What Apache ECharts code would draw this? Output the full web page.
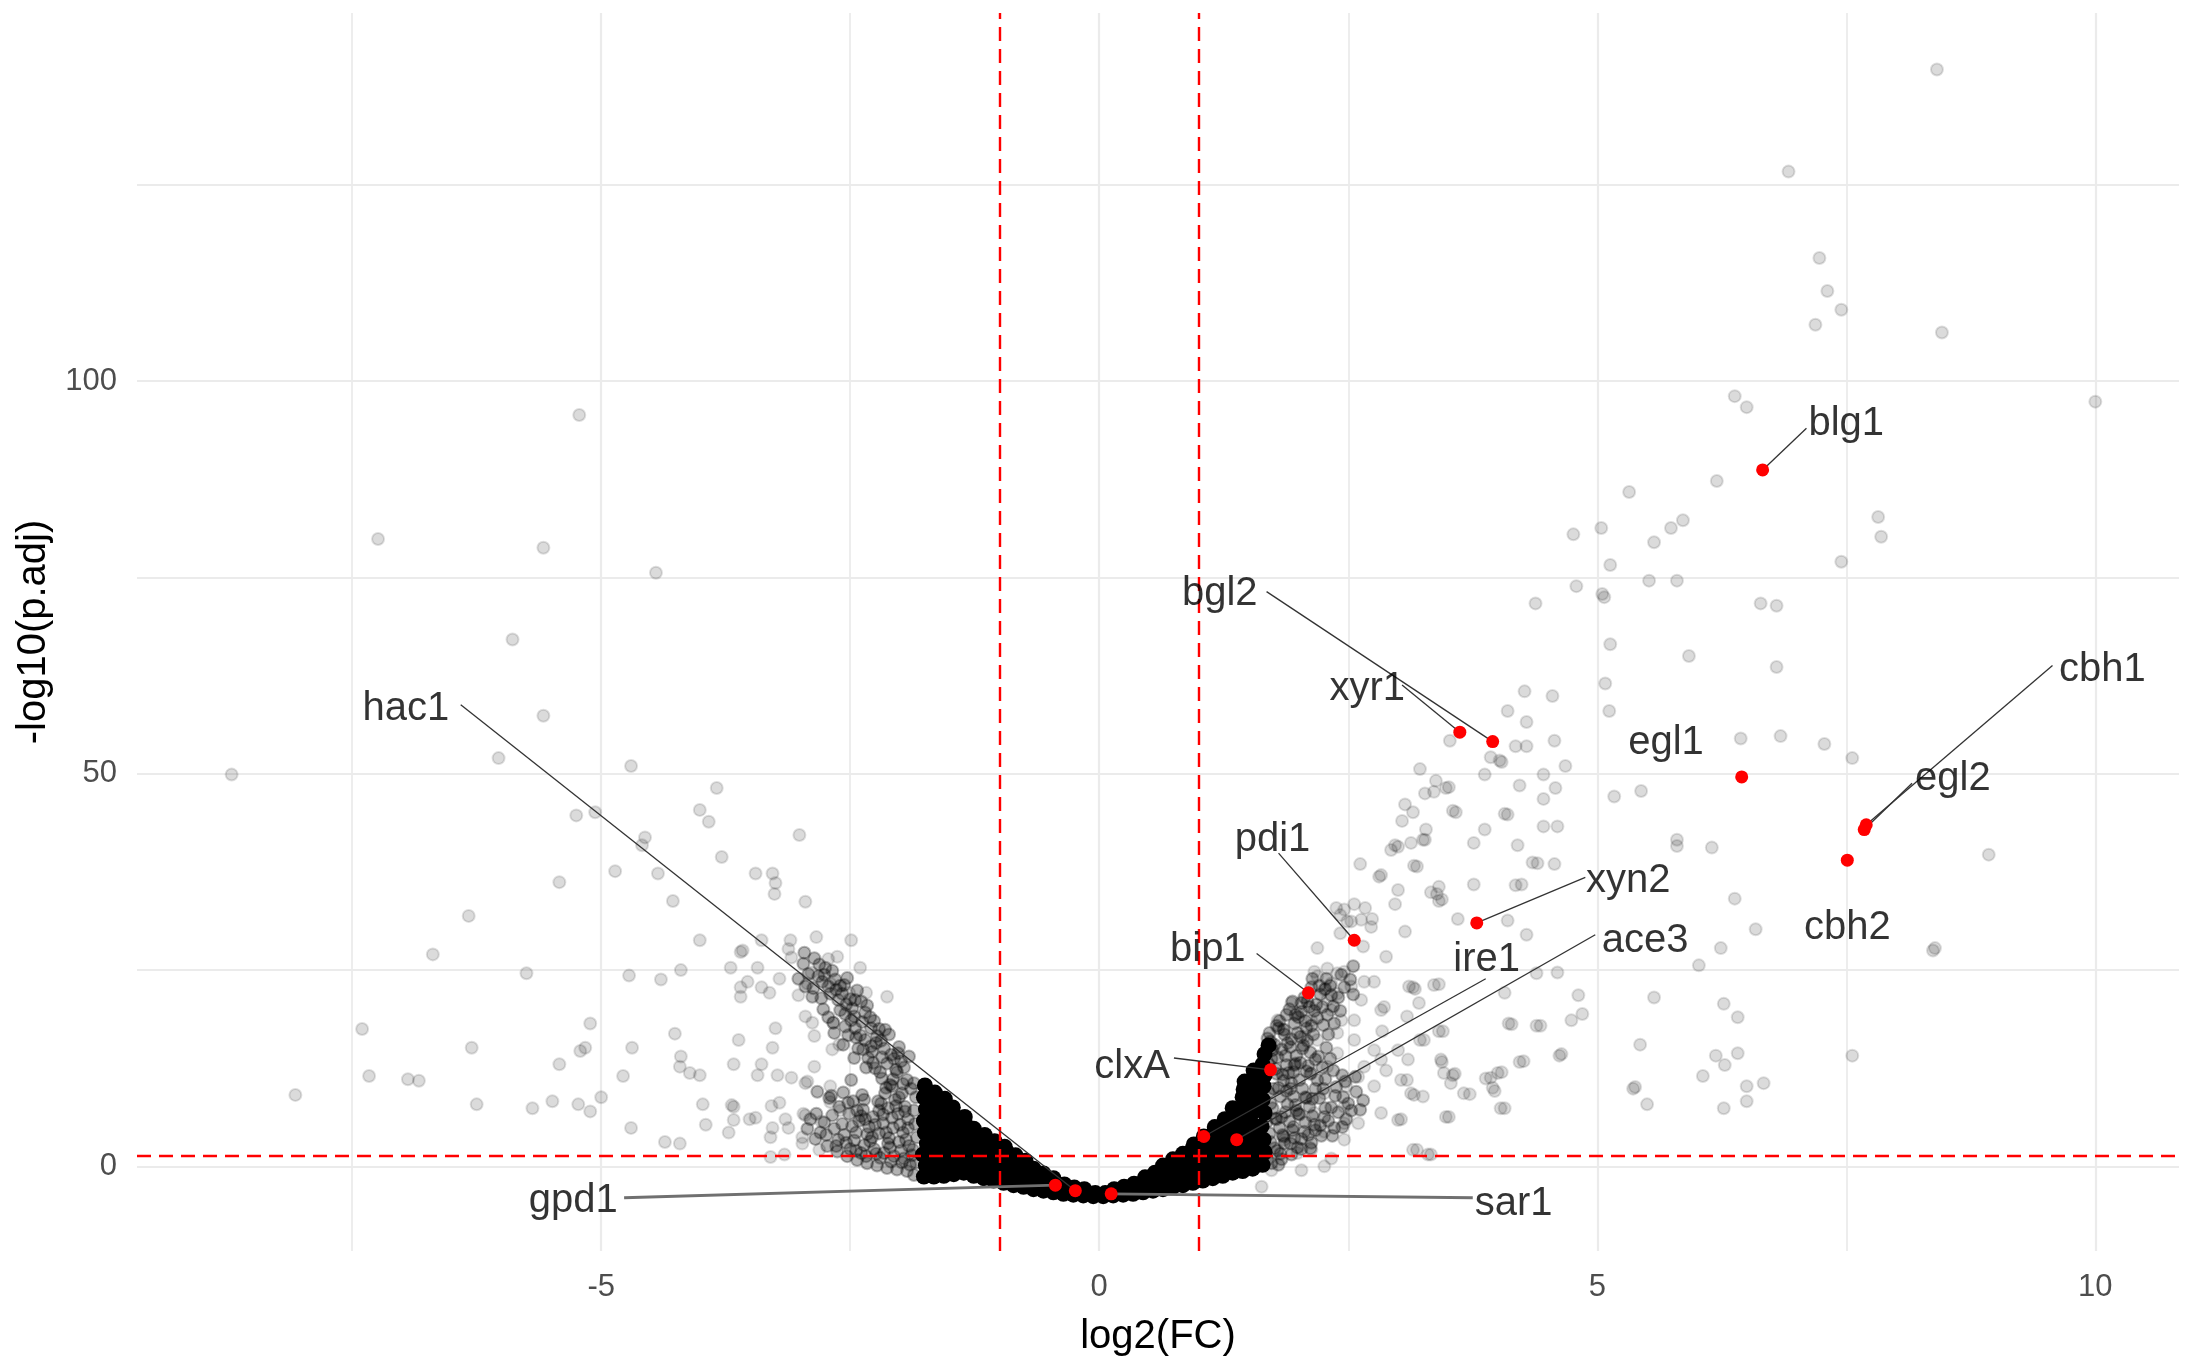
<!DOCTYPE html>
<html>
<head>
<meta charset="utf-8">
<script src="https://cdn.jsdelivr.net/npm/echarts@6/dist/echarts.min.js"></script>
<style>
  html, body { margin: 0; padding: 0; background: #fff; }
  #chart { width: 2190px; height: 1369px; }
</style>
</head>
<body>
<div id="chart"></div>
<script>
// grid / threshold values
const xGridMajor = [-5, 0, 5, 10]
const xGridMinor = [-7.5, -2.5, 2.5, 7.5]
const yGridMajor = [0, 50, 100]
const yGridMinor = [25, 75, 125]
const fcCut = [-1, 1]
const padjCut = 1.3

// scattered genes, [log2FC, -log10(p.adj)]
const sparseGenes = [
  [8.41,139.7],[6.92,126.7],[7.23,115.7],[7.31,111.5],[7.45,109.1],[7.19,107.2],[8.46,106.2],[6.38,98.1],[6.50,96.7],[10.0,97.4],
  [6.20,87.3],[5.32,85.9],[4.76,80.5],[5.04,81.3],[5.74,81.3],[5.86,82.3],[5.57,79.5],[7.82,82.7],[7.85,80.2],[7.45,77.0],
  [5.13,76.6],[4.79,73.9],[5.52,74.6],[5.80,74.6],[5.05,72.9],[5.07,72.5],[4.38,71.7],[6.64,71.7],[6.80,71.4],[5.13,66.5],
  [5.92,65.0],[6.80,63.6],[5.08,61.5],[4.27,60.5],[4.55,59.9],[5.12,58.0],[4.10,58.0],[4.29,56.6],[4.57,54.2],[4.18,53.5],
  [4.29,53.5],[3.52,54.2],[3.93,52.1],[4.02,51.7],[4.04,51.5],[4.68,51.0],[3.87,49.9],[4.46,49.9],[3.22,50.6],[3.38,49.1],
  [3.48,48.2],[3.27,47.5],[3.36,47.7],[3.51,48.3],[4.22,48.5],[4.58,48.2],[4.46,46.8],[5.17,47.1],[5.44,47.8],[6.44,54.5],
  [6.84,54.8],[7.28,53.8],[7.56,52.0],[3.07,46.1],[3.15,45.1],[3.55,45.3],[3.58,45.1],[4.07,44.9],[4.10,44.8],[3.04,44.0],
  [3.28,42.9],[3.87,42.9],[4.46,43.3],[4.60,43.3],[3.27,41.6],[3.76,41.2],[4.20,40.9],[5.80,41.6],[5.80,40.8],[6.15,40.6],
  [2.97,40.9],[3.00,40.7],[2.93,40.3],[3.13,41.2],[8.93,39.7],[8.37,27.5],[8.39,27.8],[6.38,34.1],[6.59,30.2],[6.24,27.8],
  [6.02,25.6],[5.57,21.5],[6.27,20.7],[6.41,19.0],[5.43,15.5],[7.56,14.1],[6.19,14.1],[6.41,14.4],[6.28,12.9],[6.06,11.5],
  [5.36,9.9],[5.38,10.1],[5.50,7.9],[6.50,10.2],[6.67,10.6],[6.50,8.3],[6.27,7.4],[4.81,21.8],[4.85,19.4],[4.74,18.6],
  [4.43,17.9],[4.14,18.1],[4.62,14.1],[4.64,14.3],[4.26,13.4],[4.04,12.0],[3.93,11.3],[3.97,9.6],[4.07,7.4],[3.72,9.2],
  [3.51,6.3],[3.55,11.6],[3.57,11.8],[3.44,13.3],[3.45,17.2],[3.26,16.1],[4.60,24.7],[4.39,24.6],[4.07,22.1],[3.15,22.8],
  [3.17,22.6],[3.41,23.2],[3.09,19.1],[2.86,20.3],[2.84,17.2],[2.88,12.2],[3.09,11.0],[3.16,9.1],[3.19,2.1],[3.33,1.5],
  [3.03,6.0],[2.62,38.5],[2.81,36.9],[2.83,37.1],[3.19,38.2],[3.00,35.2],[3.39,34.7],[3.44,34.0],[3.76,35.9],[4.24,35.9],
  [4.40,38.6],[4.57,38.5],[2.97,33.4],[3.60,31.5],[4.10,31.3],[3.07,29.9],[4.29,29.5],[2.88,26.7],[2.38,32.9],[2.56,33.4],
  [2.67,32.9],[2.74,31.5],[2.49,31.2],[2.42,32.0],[2.46,32.7],[2.63,31.4],[2.73,30.5],[2.53,31.2],[2.42,29.7],[2.65,28.0],
  [2.19,27.8],[3.41,35.6],[3.33,34.9],[3.41,33.8],[4.18,35.8],[4.35,38.7],[3.16,38.3],[3.25,41.6],
  [2.16,24.8],[2.29,25.2],[2.39,24.6],[2.46,24.8],[2.33,23.3],[2.19,24.2],[2.26,22.5],[2.53,22.9],[2.66,23.5],[2.76,23.5],
  [2.39,22.0],[2.29,21.2],[1.93,20.8],[1.99,19.5],[2.13,18.6],[2.33,19.9],[2.43,18.6],[2.56,18.6],[1.86,17.4],[1.79,18.6],
  [2.06,16.5],[2.19,16.1],[2.39,17.0],[2.83,19.9],[2.63,21.2],[2.56,16.1],[2.76,14.8],[2.83,13.6],[3.00,14.8],[3.10,13.6],
  [3.11,22.9],[3.36,23.1],[3.21,20.8],[3.22,16.1],[3.41,17.2],[3.46,11.9],[3.53,10.6],[3.43,13.6],[3.66,9.3],[3.88,11.2],
  [4.00,11.9],[3.95,10.0],[4.03,7.4],[4.22,13.3],[4.11,18.2],[4.39,17.9],[3.48,6.3],[3.15,2.1],[3.30,1.5],[3.13,9.3],
  [3.25,8.9],[3.03,11.0],[2.76,10.2],[2.83,6.8],[3.00,5.9],[2.60,5.5],[2.46,5.5],[2.46,3.4],[2.26,4.4],[2.16,6.8],
  [2.13,2.1],[2.33,1.0],[2.26,0.0],[2.48,10.2],[2.46,7.6],[2.26,9.3],[2.13,11.9],[2.29,12.7],[2.39,14.4],[2.66,12.7],
  [2.60,11.4],[1.73,-0.5],[1.63,-2.6],[2.03,-0.5],[1.99,1.7],[1.86,3.4],
  [-5.22,95.7],[-7.24,79.9],[-5.58,78.8],[-4.45,75.6],[-5.89,67.1],[-5.58,57.4],[-6.03,52.0],[-8.71,49.9],[-4.70,51.0],[-3.84,48.2],
  [-5.25,44.7],[-5.06,45.1],[-4.01,45.4],[-3.92,43.9],[-4.56,41.9],[-4.59,40.9],[-3.01,42.2],[-3.79,39.4],[-4.86,37.6],[-4.43,37.3],
  [-3.45,37.3],[-3.28,37.3],[-3.25,36.1],[-3.26,34.7],[-5.42,36.2],[-4.28,33.8],[-2.95,33.7],[-6.33,31.9],[-6.69,27.0],[-5.75,24.6],
  [-4.72,24.3],[-4.40,23.8],[-4.20,25.0],[-4.01,28.8],[-3.39,28.8],[-3.10,28.8],[-2.84,29.2],[-2.49,28.8],[-3.60,27.3],[-3.58,27.5],
  [-3.12,27.7],[-3.70,25.3],[-3.43,25.3],[-3.09,26.6],[-2.72,26.4],[-2.63,26.7],[-2.40,25.3],[-3.53,23.5],[-3.60,22.8],[-3.39,22.8],
  [-3.31,22.1],[-3.60,21.6],[-3.21,23.9],[-2.89,24.7],[-2.93,23.3],[-3.02,21.8],[-2.70,23.3],[-2.51,22.1],[-2.34,22.1],[-2.13,21.6],
  [-2.95,19.1],[-2.88,18.3],[-3.25,17.6],[-2.86,16.6],[-2.67,18.3],[-3.62,16.1],[-3.28,15.1],[-4.26,16.9],[-5.11,18.2],[-4.69,15.1],
  [-5.16,15.1],[-5.21,14.7],[-6.30,15.1],[-7.40,17.5],[-5.42,13.0],[-4.20,14.0],[-4.21,12.7],[-4.11,11.9],[-4.01,11.6],[-4.78,11.5],
  [-3.67,13.0],[-3.39,13.0],[-3.43,11.6],[-3.23,11.6],[-3.09,11.3],[-2.95,10.6],[-2.93,10.8],[-2.86,12.7],[-2.70,10.2],[-2.68,14.9],
  [-2.61,15.5],[-7.33,11.5],[-6.94,11.1],[-6.83,10.9],[-8.07,9.1],[-6.25,7.9],[-5.69,7.4],[-5.49,8.3],[-5.23,7.9],[-5.11,7.0],
  [-5.00,8.8],[-4.70,4.9],[-4.36,3.1],[-4.21,2.9],[-3.98,7.9],[-3.95,5.3],[-3.69,7.8],[-3.67,7.6],[-3.72,4.3],[-3.67,5.9],
  [-3.51,6.0],[-3.45,6.2],[-3.29,7.7],[-3.21,8.1],[-3.28,4.9],[-3.30,3.7],[-3.15,6.0],[-3.12,4.9],[-2.95,6.5],[-2.97,6.7],
  [-2.98,3.7],[-2.98,2.9],[-2.81,2.1],[-3.16,1.5],[-3.30,1.2],[-2.70,8.2],[-2.60,7.1],[-2.79,5.7]
]

// genes in the two arms of the V
const denseGenes = [
  [-1.86,-1.1],[-1.84,0.5],[-1.87,2.1],[-1.83,3.7],[-1.85,5.4],[-1.86,7.1],[-1.84,8.8],[-1.86,10.6],
  [-1.93,-0.6],[-1.96,1.0],[-1.91,2.6],[-1.97,4.3],[-1.92,6.0],[-1.95,7.6],[-1.98,9.3],[-1.93,11.0],[-1.96,12.6],[-1.91,14.0],
  [-2.03,-0.4],[-2.06,1.3],[-2.01,3.1],[-2.07,4.9],[-2.02,6.7],[-2.05,8.5],[-2.08,10.2],[-2.03,12.0],[-2.06,13.7],[-2.01,15.2],
  [-2.13,-0.2],[-2.16,1.7],[-2.11,3.6],[-2.17,5.5],[-2.12,7.4],[-2.15,9.3],[-2.18,11.2],[-2.13,13.1],[-2.16,15.0],[-2.11,16.8],
  [-2.23,0.1],[-2.26,2.2],[-2.21,4.2],[-2.27,6.3],[-2.22,8.3],[-2.25,12.5],[-2.28,14.6],[-2.23,16.6],[-2.26,18.5],
  [-2.33,0.4],[-2.36,2.7],[-2.31,5.0],[-2.37,7.2],[-2.32,13.8],[-2.35,16.1],[-2.38,18.4],[-2.33,20.5],
  [-2.43,0.8],[-2.46,3.3],[-2.41,5.8],[-2.47,8.3],[-2.42,15.0],[-2.45,17.6],[-2.48,20.1],[-2.43,22.4],
  [-2.53,1.3],[-2.56,4.0],[-2.51,6.7],[-2.57,9.4],[-2.52,16.7],[-2.55,19.4],[-2.58,22.0],[-2.53,24.0],
  [-2.63,1.9],[-2.66,4.8],[-2.61,7.6],[-2.67,18.3],[-2.62,21.2],[-2.65,23.8],
  [-2.73,2.6],[-2.76,5.6],[-2.71,8.7],[-2.77,20.0],[-2.72,22.9],[-2.75,25.3],
  [-2.85,3.5],[-2.83,9.5],[-2.88,21.6],[-2.82,24.2],[-2.95,22.9],[-2.97,25.8],
  [-1.90,0.2],[-1.99,2.0],[-1.94,3.4],[-2.00,5.3],[-1.95,7.0],[-2.01,8.8],[-1.97,10.5],[-2.04,12.3],[-1.99,13.4],
  [-2.09,0.6],[-2.10,2.4],[-2.14,4.3],[-2.08,6.2],[-2.19,8.0],[-2.10,10.4],[-2.20,12.0],[-2.09,14.2],[-2.19,16.0],
  [-2.20,1.1],[-2.30,3.2],[-2.25,5.3],[-2.35,6.0],[-2.29,15.3],[-2.21,17.5],[-2.30,19.0],[-2.39,1.7],[-2.44,4.3],[-2.38,9.1],
  [-2.40,16.7],[-2.46,19.1],[-2.39,21.0],[-2.50,2.2],[-2.58,5.4],[-2.49,11.0],[-2.55,17.8],[-2.50,21.3],[-2.60,23.0],
  [-2.62,3.4],[-2.68,6.5],[-2.60,19.9],[-2.70,22.0],[-2.80,4.3],[-2.78,23.5],[-2.90,6.0],[-2.92,24.5],[-2.86,26.5],
  [-1.88,1.4],[-1.92,4.9],[-1.89,9.9],[-1.98,0.5],[-2.04,7.7],[-2.07,11.1],[-2.02,14.4],[-2.12,2.9],[-2.17,6.6],[-2.14,10.0],
  [-2.18,13.9],[-2.15,17.4],[-2.24,1.6],[-2.28,3.7],[-2.21,7.1],[-2.27,13.2],[-2.24,15.7],[-2.29,17.6],[-2.34,1.3],[-2.33,4.1],
  [-2.39,6.4],[-2.36,8.5],[-2.34,12.6],[-2.37,14.9],[-2.35,19.6],[-2.44,2.0],[-2.48,5.1],[-2.43,7.1],[-2.46,13.8],[-2.44,16.4],
  [-2.49,18.6],[-2.45,21.2],[-2.54,3.0],[-2.52,8.1],[-2.57,15.5],[-2.54,20.6],[-2.56,23.1],[-2.64,2.6],[-2.69,9.0],[-2.66,17.0],
  [-2.64,22.5],[-2.68,24.9],[-2.74,4.0],[-2.72,19.0],[-2.79,21.4],[-2.76,24.4],[-2.84,6.7],[-2.87,22.7],[-2.81,25.7],[-2.93,4.8],
  [-2.96,27.2],[-3.02,23.9],
  [1.73,0.4],[1.76,2.3],[1.71,4.2],[1.77,6.1],[1.72,8.0],[1.75,9.9],[1.78,11.8],[1.73,13.7],[1.76,15.5],[1.71,17.0],
  [1.83,0.9],[1.86,2.9],[1.81,4.9],[1.87,6.9],[1.82,8.9],[1.85,10.9],[1.88,12.9],[1.83,14.9],[1.86,16.8],[1.81,18.5],
  [1.93,1.5],[1.96,3.6],[1.91,5.7],[1.97,7.8],[1.92,9.9],[1.95,12.0],[1.98,14.1],[1.93,16.2],[1.96,18.2],[1.91,20.0],
  [2.03,2.2],[2.06,4.4],[2.01,6.6],[2.07,8.8],[2.02,13.2],[2.05,15.4],[2.08,17.6],[2.03,19.7],[2.06,21.5],
  [2.13,3.0],[2.16,5.3],[2.11,7.6],[2.17,9.9],[2.12,14.5],[2.15,16.8],[2.18,20.6],[2.13,22.8],
  [2.23,3.9],[2.26,6.3],[2.21,8.7],[2.27,11.1],[2.25,18.0],[2.22,21.9],[2.28,23.9],
  [2.36,4.9],[2.33,7.5],[2.38,10.1],[2.35,20.4],[2.32,23.0],[2.48,6.0],[2.45,8.8],[2.43,24.4],[2.55,25.5],[2.62,7.2],
  [1.70,13.0],[1.74,14.8],[1.69,16.3],[1.80,0.2],[1.79,2.0],[1.84,4.0],[1.78,6.0],[1.89,7.9],[1.80,10.0],[1.90,11.9],
  [1.79,13.9],[1.89,15.7],[1.80,17.6],[1.99,2.4],[1.94,4.6],[2.00,6.7],[1.95,8.9],[2.01,11.0],[1.97,13.1],[2.04,15.0],
  [1.99,17.0],[2.00,19.0],[2.09,21.0],[2.10,4.0],[2.14,6.4],[2.08,8.7],[2.19,11.0],[2.10,12.8],[2.20,14.0],[2.09,16.0],
  [2.19,18.9],[2.11,20.3],[2.30,5.8],[2.25,9.9],[2.35,12.2],[2.30,16.8],[2.29,19.3],[2.21,23.0],[2.40,6.9],[2.44,11.6],
  [2.40,21.5],[2.50,8.0],[2.58,9.5],[2.52,23.8],
  [1.69,0.9],[1.72,3.1],[1.68,5.6],[1.74,7.4],[1.70,9.4],[1.77,12.4],[1.72,15.9],[1.78,17.9],[1.82,1.6],[1.85,3.8],
  [1.83,6.3],[1.88,9.6],[1.84,11.7],[1.87,14.1],[1.85,17.4],[1.88,19.3],[1.92,2.9],[1.95,5.0],[1.98,7.1],[1.93,10.6],
  [1.96,12.9],[1.92,15.2],[1.97,19.3],[1.94,21.0],[2.03,3.5],[2.07,5.6],[2.04,9.9],[2.08,12.1],[2.02,16.5],[2.07,18.5],
  [2.03,20.8],[2.12,2.3],[2.17,4.6],[2.14,8.6],[2.12,11.8],[2.17,13.6],[2.13,17.9],[2.16,19.8],[2.14,23.9],[2.22,5.2],
  [2.27,7.4],[2.24,12.6],[2.28,15.1],[2.24,20.3],[2.27,22.6],[2.34,3.9],[2.37,9.0],[2.32,13.7],[2.36,18.2],[2.33,21.8],
  [2.44,5.0],[2.47,10.8],[2.42,19.8],[2.46,22.8],[2.53,7.1],[2.57,11.4],[2.55,21.9],[2.65,8.4]
]

// genes in the solid core of the V
const coreGenes = [
  [-1.76,-1.3],[-1.74,0.1],[-1.77,1.5],[-1.73,2.9],[-1.75,4.3],[-1.76,5.8],[-1.74,7.3],[-1.76,8.8],[-1.75,10.3],
  [-1.66,-1.3],[-1.64,0.0],[-1.67,1.3],[-1.63,2.6],[-1.65,4.0],[-1.66,5.4],[-1.64,6.8],[-1.66,8.1],[-1.65,9.4],
  [-1.56,-1.2],[-1.54,0.0],[-1.57,1.3],[-1.53,2.6],[-1.55,3.9],[-1.56,5.2],[-1.54,6.5],[-1.56,7.7],[-1.55,8.6],
  [-1.46,-1.0],[-1.44,0.2],[-1.47,1.4],[-1.43,2.7],[-1.46,3.9],[-1.44,5.2],[-1.45,6.4],[-1.47,7.5],
  [-1.36,-0.8],[-1.34,0.4],[-1.37,1.6],[-1.33,2.9],[-1.36,4.1],[-1.34,5.3],[-1.35,6.3],
  [-1.26,-1.2],[-1.24,0.0],[-1.27,1.2],[-1.23,2.4],[-1.25,3.6],[-1.26,4.8],
  [-1.16,-1.5],[-1.14,-0.4],[-1.15,0.8],[-1.17,1.9],[-1.13,3.0],[-1.15,4.0],
  [-1.06,-1.8],[-1.04,-0.7],[-1.05,0.4],[-1.07,1.4],[-1.03,2.4],[-1.05,3.2],
  [-0.96,-2.1],[-0.94,-1.1],[-0.95,-0.1],[-0.97,0.9],[-0.93,1.9],[-0.95,2.5],
  [-0.86,-2.4],[-0.84,-1.4],[-0.85,-0.4],[-0.86,0.6],[-0.84,1.4],
  [-0.76,-2.6],[-0.74,-1.7],[-0.75,-0.8],[-0.76,0.1],[-0.74,0.7],
  [-0.66,-2.9],[-0.64,-2.0],[-0.65,-1.1],[-0.66,-0.3],
  [-0.56,-3.1],[-0.54,-2.3],[-0.55,-1.5],[-0.56,-0.9],
  [-0.46,-3.3],[-0.44,-2.6],[-0.45,-1.9],[-0.46,-1.5],
  [-0.36,-3.5],[-0.34,-2.9],[-0.35,-2.3],
  [-0.26,-3.6],[-0.24,-3.1],[-0.25,-2.7],
  [-0.16,-3.7],[-0.14,-3.2],[-0.15,-2.9],
  [-0.06,-3.8],[-0.04,-3.4],[0.04,-3.8],[0.06,-3.4],
  [0.14,-3.7],[0.16,-3.2],[0.15,-2.9],
  [0.24,-3.6],[0.26,-3.1],[0.25,-2.6],
  [0.34,-3.5],[0.36,-2.8],[0.35,-2.2],
  [0.44,-3.3],[0.46,-2.6],[0.45,-1.9],[0.46,-1.4],
  [0.54,-3.1],[0.56,-2.3],[0.55,-1.5],[0.56,-0.8],
  [0.64,-2.9],[0.66,-2.0],[0.65,-1.1],[0.66,-0.2],[0.64,0.1],
  [0.74,-2.6],[0.76,-1.7],[0.75,-0.7],[0.76,0.2],[0.74,0.9],
  [0.84,-2.4],[0.86,-1.4],[0.85,-0.4],[0.86,0.6],[0.84,1.6],
  [0.94,-2.1],[0.96,-1.1],[0.95,0.0],[0.97,1.1],[0.93,2.1],[0.95,2.8],
  [1.04,-1.8],[1.06,-0.7],[1.05,0.5],[1.07,1.6],[1.03,2.7],[1.05,3.8],
  [1.14,-1.5],[1.16,-0.4],[1.15,0.8],[1.17,2.0],[1.13,3.2],[1.15,4.3],[1.16,5.0],
  [1.24,-1.2],[1.26,0.0],[1.25,1.2],[1.27,2.5],[1.23,3.7],[1.25,4.9],[1.26,6.0],
  [1.34,-0.8],[1.36,0.4],[1.35,1.7],[1.37,3.0],[1.33,4.3],[1.35,5.6],[1.36,6.9],[1.34,7.4],
  [1.44,-0.6],[1.46,0.7],[1.45,2.0],[1.47,3.4],[1.43,4.8],[1.45,6.2],[1.46,7.6],[1.44,8.8],[1.45,9.8],[1.46,10.8],
  [1.54,-0.3],[1.56,1.1],[1.55,2.5],[1.57,4.0],[1.53,5.5],[1.55,7.0],[1.56,8.5],[1.54,9.9],[1.55,11.0],[1.55,12.2],
  [1.64,0.2],[1.66,1.8],[1.65,3.4],[1.63,5.1],[1.66,6.8],[1.64,8.5],[1.65,10.2],[1.66,11.6],[1.64,13.0],[1.66,14.3],[1.70,15.4]
]

// highlighted genes
const geneNames = ['blg1', 'xyr1', 'bgl2', 'egl1', 'cbh1', 'egl2', 'cbh2', 'xyn2', 'pdi1', 'bip1', 'clxA', 'ire1', 'ace3', 'sar1', 'gpd1', 'hac1']
const geneFC = [6.66, 3.62, 3.95, 6.45, 7.70, 7.68, 7.51, 3.79, 2.56, 2.10, 1.72, 1.05, 1.38, 0.12, -0.44, -0.24]
const genePadj = [88.7, 55.3, 54.1, 49.6, 43.5, 42.9, 39.0, 31.0, 28.8, 22.1, 12.3, 3.8, 3.4, -3.5, -2.4, -3.1]

// where the repelled labels sit, and where their leader line starts (null = no line)
const labelAt = [[7.50,94.6],[2.69,60.8],[1.21,72.9],[5.69,53.9],[10.07,63.2],[8.57,49.4],[7.51,30.4],[5.31,36.4],
  [1.74,41.6],[1.09,27.6],[0.33,12.6],[3.89,26.3],[5.48,28.7],[4.16,-4.8],[-5.28,-4.4],[-6.96,58.2]]
const leaderFrom = [[7.10,94.0],[3.04,61.3],[1.68,73.2],null,[9.57,63.8],[8.16,48.8],null,[4.88,36.8],
  [1.80,39.9],[1.58,27.1],[0.75,13.8],[3.88,23.9],[4.98,29.5],[3.75,-4.0],[-4.77,-4.0],[-6.41,58.8]]

const FONT = "'Liberation Sans', Arial, sans-serif"
const chart = echarts.init(document.getElementById('chart'))

const gridLines = [
  ...xGridMajor.map(v => ({ xAxis: v, lineStyle: { width: 2.2 } })),
  ...xGridMinor.map(v => ({ xAxis: v, lineStyle: { width: 1.8 } })),
  ...yGridMajor.map(v => ({ yAxis: v, lineStyle: { width: 2.2 } })),
  ...yGridMinor.map(v => ({ yAxis: v, lineStyle: { width: 1.8 } }))
]

const leaderLines = []
leaderFrom.forEach((p, i) => {
  if (!p) return
  const flat = geneNames[i] === 'gpd1' || geneNames[i] === 'sar1'
  leaderLines.push({
    coords: [p, [geneFC[i], genePadj[i]]],
    lineStyle: flat ? { color: '#707070', width: 2.8, opacity: 1 } : { color: '#333', width: 1.3, opacity: 1 }
  })
})

// scatter defaults to opacity 0.8, so set it back to 1 and carry alpha in the colour
const pointStyle = (a) => ({ color: `rgba(0,0,0,${a})`, borderColor: `rgba(0,0,0,${a * 0.9})`, borderWidth: 2, opacity: 1 })

chart.setOption({
  animation: false,
  backgroundColor: '#fff',
  grid: { left: 137, right: 11, top: 13, bottom: 118 },
  xAxis: {
    type: 'value', min: -9.66, max: 10.84, splitNumber: 4,
    axisLine: { show: false }, axisTick: { show: false }, splitLine: { show: false },
    axisLabel: {
      margin: 21, fontSize: 31, color: '#4D4D4D', fontFamily: FONT,
      formatter: v => (Math.abs(v % 5) < 1e-6 ? String(v) : '')
    },
    name: 'log2(FC)', nameLocation: 'middle', nameGap: 66,
    nameTextStyle: { fontSize: 40, color: '#000', fontFamily: FONT }
  },
  yAxis: {
    type: 'value', min: -10.78, max: 146.9, splitNumber: 3,
    axisLine: { show: false }, axisTick: { show: false }, splitLine: { show: false },
    axisLabel: {
      margin: 20, fontSize: 31, color: '#4D4D4D', fontFamily: FONT,
      formatter: v => (Math.abs(v % 50) < 1e-6 ? String(v) : '')
    },
    name: '-log10(p.adj)', nameLocation: 'middle', nameGap: 82, nameRotate: 90,
    nameTextStyle: { fontSize: 40, color: '#000', fontFamily: FONT }
  },
  series: [
    {
      type: 'scatter', data: [], z: 0, silent: true,
      markLine: {
        silent: true, symbol: ['none', 'none'], animation: false, z: 0,
        label: { show: false },
        lineStyle: { color: '#EBEBEB', type: 'solid' },
        data: gridLines
      }
    },
    { type: 'scatter', data: sparseGenes, symbolSize: 12, itemStyle: pointStyle(0.14), z: 2, silent: true },
    { type: 'scatter', data: denseGenes, symbolSize: 12, itemStyle: pointStyle(0.3), z: 2, silent: true },
    { type: 'scatter', data: coreGenes, symbolSize: 16, itemStyle: { color: '#000', opacity: 1 }, z: 2, silent: true },
    {
      type: 'scatter', data: [], z: 3, silent: true,
      markLine: {
        silent: true, symbol: ['none', 'none'], animation: false, z: 3,
        label: { show: false },
        lineStyle: { color: '#FF0000', type: [14, 8], width: 2.4 },
        data: [...fcCut.map(v => ({ xAxis: v })), { yAxis: padjCut }]
      }
    },
    {
      type: 'lines', coordinateSystem: 'cartesian2d', z: 4, silent: true,
      lineStyle: { opacity: 1 },
      data: leaderLines
    },
    {
      type: 'scatter', z: 5, symbolSize: 13, silent: true,
      itemStyle: { color: '#FF0000', opacity: 1 },
      data: geneNames.map((n, i) => ({ name: n, value: [geneFC[i], genePadj[i]] }))
    },
    {
      type: 'scatter', z: 6, symbolSize: 1, silent: true,
      itemStyle: { color: 'rgba(0,0,0,0)' },
      label: {
        show: true, position: 'inside', formatter: p => p.name,
        fontSize: 40, color: '#000', fontFamily: FONT
      },
      data: geneNames.map((n, i) => ({ name: n, value: labelAt[i] }))
    }
  ]
})
</script>
</body>
</html>
